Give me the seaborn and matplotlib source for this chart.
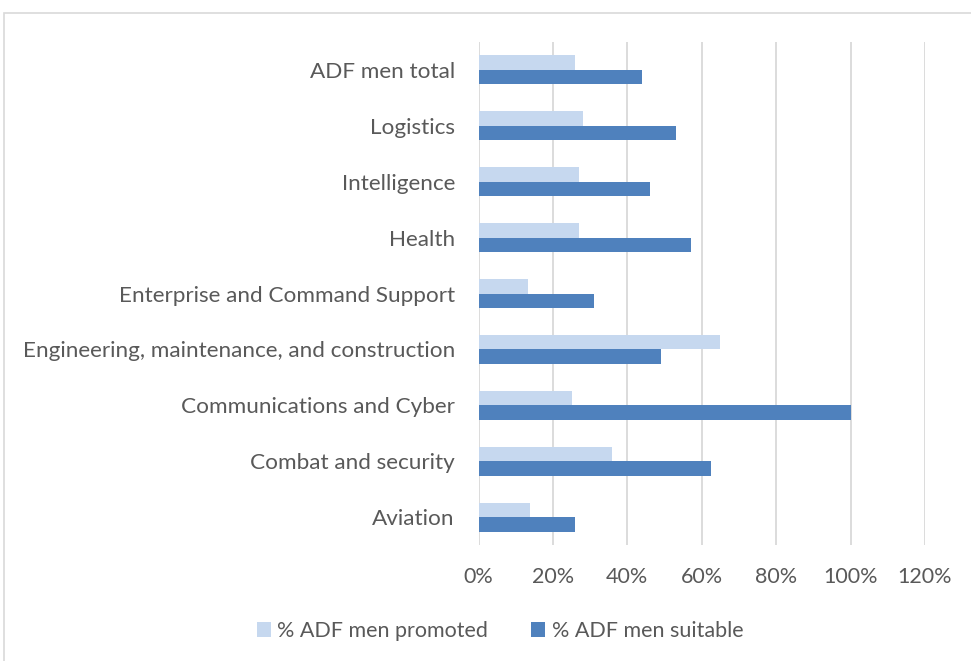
import matplotlib
matplotlib.use("Agg")
import matplotlib.pyplot as plt
import seaborn as sns
import pandas as pd
from matplotlib.patches import Rectangle, Patch
from matplotlib.ticker import FuncFormatter, MultipleLocator

categories = ["ADF men total", "Logistics", "Intelligence", "Health",
              "Enterprise and Command Support",
              "Engineering, maintenance, and construction",
              "Communications and Cyber", "Combat and security", "Aviation"]
promoted = [0.26, 0.28, 0.27, 0.27, 0.133, 0.65, 0.25, 0.36, 0.138]
suitable = [0.44, 0.53, 0.46, 0.572, 0.31, 0.491, 1.00, 0.626, 0.26]
series = ["% ADF men promoted", "% ADF men suitable"]
colors = ["#C6D8EF", "#4F81BD"]

df = pd.DataFrame({
    "cat": categories * 2,
    "val": promoted + suitable,
    "series": [series[0]] * len(categories) + [series[1]] * len(categories),
})

sns.set_theme(style="white")
plt.rcParams['font.family'] = ['Lato', 'DejaVu Sans']
txt = "#595959"
fs = 15.5

fig = plt.figure(figsize=(9.71, 6.61), dpi=100)
ax = fig.add_axes([478.5/971, (661-545)/661, (925-478.5)/971, (545-42)/661])

sns.barplot(data=df, x="val", y="cat", hue="series", order=categories,
            hue_order=series, palette=colors, width=0.52, ax=ax,
            orient="h", legend=False, saturation=1, linewidth=0)

ax.set_xlim(0, 1.2)
ax.xaxis.set_major_locator(MultipleLocator(0.2))
ax.xaxis.set_major_formatter(FuncFormatter(lambda v, p: f"{v*100:.0f}%"))
ax.grid(axis="x", color="#D9D9D9", linewidth=1.3)
ax.set_axisbelow(True)
for s in ax.spines.values():
    s.set_visible(False)
ax.set_xlabel("")
ax.set_ylabel("")
ax.tick_params(axis="both", length=0, labelcolor=txt)
ax.tick_params(axis="x", pad=16, labelsize=fs)
ax.tick_params(axis="y", pad=17, labelsize=16.2)

handles = [Patch(facecolor=c, edgecolor="none") for c in colors]
fig.legend(handles, series, loc="center", bbox_to_anchor=(500/971, 1 - 631/661),
           ncol=2, frameon=False, fontsize=fs, labelcolor=txt,
           handlelength=0.65, handleheight=0.65, handletextpad=0.3,
           columnspacing=2.0)

fig.patches.append(Rectangle((4/971, -0.01), 1.0, 1 - 13/661 + 0.01,
                             transform=fig.transFigure, fill=False,
                             edgecolor="#D9D9D9", linewidth=1.2))

fig.savefig("out.png", dpi=100)
